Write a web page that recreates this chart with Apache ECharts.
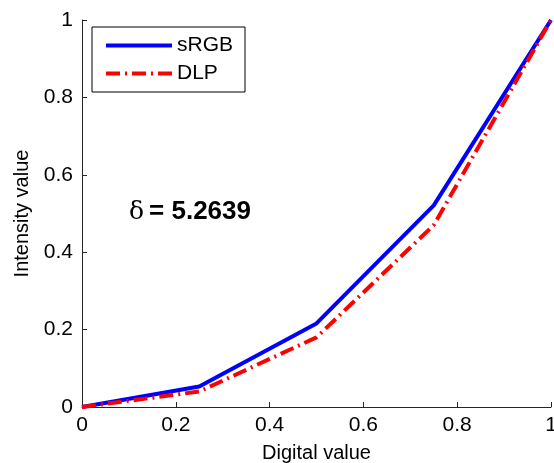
<!DOCTYPE html>
<html>
<head>
<meta charset="utf-8">
<script src="https://cdn.jsdelivr.net/npm/echarts@6/dist/echarts.min.js"></script>
<style>
  html, body { margin: 0; padding: 0; background: #fff; }
  #chart { width: 554px; height: 463px; }
</style>
</head>
<body>
<div id="chart"></div>
<script>
const digital = [0, 0.25, 0.5, 0.75, 1]
const srgb = [0, 0.053, 0.216, 0.521, 1]
const dlp = [0, 0.04, 0.18, 0.47, 1]
const xTicks = [0, 0.2, 0.4, 0.6, 0.8, 1]
const yTicks = [0, 0.2, 0.4, 0.6, 0.8, 1]

const font = 'Liberation Sans, Arial, sans-serif'
const axisCol = '#262626'

const pairs = (xs, ys) => xs.map((x, i) => [x, ys[i]])
const tickFmt = ticks => v => {
    const t = ticks.find(k => Math.abs(k - v) < 1e-9)
    return t === undefined ? '' : String(+t.toFixed(1))
}

const chart = echarts.init(document.getElementById('chart'), null, { renderer: 'canvas' })

const axisCommon = {
    type: 'value',
    min: 0,
    max: 1,
    interval: 0.2,
    axisLine: { show: true, lineStyle: { color: axisCol, width: 1 } },
    axisTick: { show: true, inside: true, length: 5, lineStyle: { color: axisCol } },
    splitLine: { show: false },
    nameTextStyle: { fontFamily: font, fontSize: 20, color: '#000' }
}

chart.setOption({
    animation: false,
    grid: { left: 82, right: 3, top: 20, bottom: 56, containLabel: false, outerBoundsMode: 'none' },
    xAxis: Object.assign({}, axisCommon, {
        name: 'Digital value',
        nameLocation: 'middle',
        nameGap: 36,
        axisLabel: { fontFamily: font, fontSize: 21, color: '#000', margin: 8, formatter: tickFmt(xTicks) }
    }),
    yAxis: Object.assign({}, axisCommon, {
        name: 'Intensity value',
        nameLocation: 'middle',
        nameGap: 49,
        axisLabel: { fontFamily: font, fontSize: 21, color: '#000', margin: 9, formatter: tickFmt(yTicks) }
    }),
    legend: {
        orient: 'vertical',
        left: 92,
        top: 27,
        padding: [8, 12, 8, 12],
        itemWidth: 66,
        itemHeight: 14,
        itemGap: 7,
        borderColor: '#000',
        borderWidth: 1,
        backgroundColor: '#fff',
        itemStyle: { opacity: 0 },
        lineStyle: { width: 4 },
        textStyle: { fontFamily: font, fontSize: 21, color: '#000' },
        data: ['sRGB', 'DLP']
    },
    series: [
        {
            name: 'sRGB',
            type: 'line',
            data: pairs(digital, srgb),
            symbol: 'none',
            lineStyle: { color: '#0000ff', width: 4 },
            itemStyle: { color: '#0000ff' }
        },
        {
            name: 'DLP',
            type: 'line',
            data: pairs(digital, dlp),
            symbol: 'none',
            lineStyle: { color: '#ff0000', width: 4, type: [14, 5, 2, 5] },
            itemStyle: { color: '#ff0000' }
        }
    ],
    graphic: [
        {
            type: 'text',
            left: 129,
            top: 199,
            style: {
                text: '{d|δ}{v|= 5.2639}',
                rich: {
                    d: { fontFamily: 'DejaVu Serif, serif', fontSize: 25, fill: '#000', padding: [0, 5, 0, 0] },
                    v: { fontFamily: font, fontSize: 26, fontWeight: 'bold', fill: '#000' }
                }
            }
        }
    ]
})
</script>
</body>
</html>
